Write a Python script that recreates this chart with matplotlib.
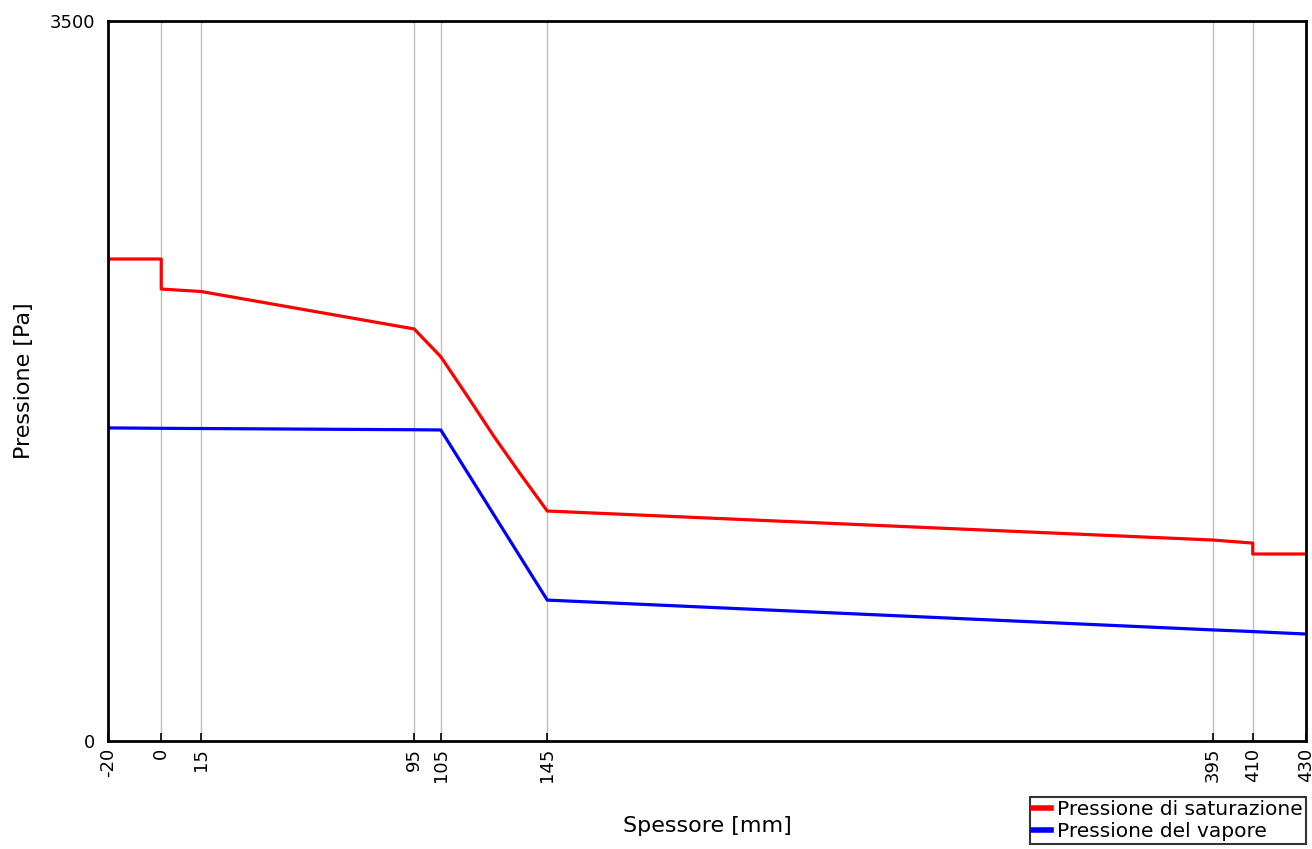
import matplotlib.pyplot as plt

plt.rcParams.update({'font.size': 13, 'font.family': 'DejaVu Sans'})

# layer boundaries [mm]
ticks = [-20, 0, 15, 95, 105, 145, 395, 410, 430]

# saturation pressure
x_sat = [-20, 0, 0, 15, 95, 105, 115, 125, 135, 145, 395, 410, 410, 430]
p_sat = [2343, 2343, 2197, 2185, 2003, 1868, 1676, 1480, 1296, 1118, 977, 962, 909, 909]

# vapour pressure
x_vap = [-20, 0, 15, 95, 105, 145, 395, 410, 430]
p_vap = [1522, 1520, 1519, 1513, 1512, 685, 540, 532, 520]

W, H = 1312, 849
fig = plt.figure(figsize=(W / 100, H / 100), dpi=100)
ax = fig.add_axes([108 / W, (H - 741) / H, 1198 / W, 720 / H])

ax.plot(x_sat, p_sat, color='#ff0000', lw=2.3, label='Pressione di saturazione')
ax.plot(x_vap, p_vap, color='#0000ff', lw=2.3, label='Pressione del vapore')

ax.set_xlim(-20, 430)
ax.set_ylim(0, 3500)
ax.set_xticks(ticks)
ax.set_xticklabels([str(t) for t in ticks], rotation=90)
ax.set_yticks([0, 3500])
ax.tick_params(axis='x', direction='in', length=6, width=1.2, pad=5)
ax.tick_params(axis='y', length=0, pad=9)
for t in ticks[1:-1]:
    ax.axvline(t, color='#c0c0c0', lw=1, zorder=0)
for s in ax.spines.values():
    s.set_linewidth(2)
    s.set_color('black')

ax.set_xlabel('Spessore [mm]', fontsize=16, labelpad=24)
ax.set_ylabel('Pressione [Pa]', fontsize=16, labelpad=-2)
ax.yaxis.set_label_coords(-74 / 1198, 0.5)

leg = fig.legend(loc='upper right', bbox_to_anchor=(1306 / W, (H - 797) / H),
                 frameon=True, fancybox=False, handlelength=0.9,
                 handletextpad=0.3, borderpad=0.15, labelspacing=0.15,
                 borderaxespad=0, fontsize=14.5)
leg.get_frame().set_edgecolor('black')
leg.get_frame().set_linewidth(1.5)
for line in leg.get_lines():
    line.set_linewidth(4)

fig.savefig('out.png', dpi=100)
